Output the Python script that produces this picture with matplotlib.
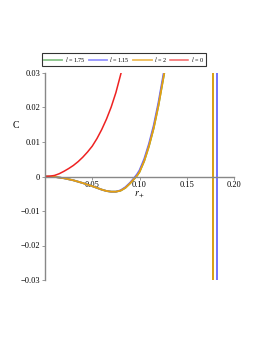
import matplotlib
matplotlib.use('Agg')
import matplotlib.pyplot as plt

plt.rcParams['font.family'] = ['Liberation Serif', 'DejaVu Serif']
plt.rcParams['mathtext.fontset'] = 'stix'

# values
r_neg = [0.0, 0.01, 0.02, 0.03, 0.04, 0.05, 0.055, 0.06, 0.065, 0.07, 0.075,
         0.08, 0.085, 0.09, 0.095, 0.0975, 0.1, 0.105, 0.11, 0.115, 0.12, 0.1262]
c_orange = [0.0, -0.0001, -0.0005, -0.0011, -0.0019, -0.0028, -0.0033, -0.0038,
            -0.0042, -0.0044, -0.0044, -0.0041, -0.0033, -0.0020, -0.0005,
            0.0003, 0.0013, 0.0045, 0.0088, 0.0140, 0.0205, 0.0300]
c_blue = [0.0, -0.0001, -0.0005, -0.0011, -0.0019, -0.0028, -0.0033, -0.0038,
          -0.0042, -0.0044, -0.0044, -0.0040, -0.0031, -0.0018, -0.0002,
          0.0007, 0.0018, 0.0051, 0.0095, 0.0148, 0.0214, 0.0310]
r_red = [0.0, 0.005, 0.01, 0.015, 0.02, 0.025, 0.03, 0.035, 0.04, 0.045, 0.05,
         0.055, 0.06, 0.065, 0.07, 0.075, 0.0805]
c_red = [0.0, 0.0001, 0.0003, 0.0008, 0.0015, 0.0023, 0.0032, 0.0043, 0.0056,
         0.0071, 0.0088, 0.0110, 0.0136, 0.0166, 0.0201, 0.0243, 0.0300]
asym_r = {'green': 0.1775, 'blue': 0.1822, 'orange': 0.1775}

labels = ['$l$ = 1.75', '$l$ = 1.15', '$l$ = 2', '$l$ = 0']
green, blue, orange, red = '#55aa55', '#6666ff', '#e6a010', '#ee2222'

fig = plt.figure(figsize=(2.62, 3.39), dpi=100)
ax = fig.add_axes([45 / 262, 59 / 339, 189 / 262, 207 / 339])

l1, = ax.plot(r_neg, c_orange, color=green, lw=1.3, solid_joinstyle='round')
l2, = ax.plot(r_neg, c_blue, color=blue, lw=1.3, solid_joinstyle='round')
l3, = ax.plot(r_neg, c_orange, color=orange, lw=1.3, solid_joinstyle='round')
l4, = ax.plot(r_red, c_red, color=red, lw=1.1, solid_joinstyle='round')
ax.axvline(asym_r['green'], color=green, lw=1.3)
ax.axvline(asym_r['blue'], color=blue, lw=1.3)
ax.axvline(asym_r['orange'], color=orange, lw=1.3)

ax.set_xlim(0, 0.2)
ax.set_ylim(-0.03, 0.03)
ax.spines['top'].set_visible(False)
ax.spines['right'].set_visible(False)
ax.spines['bottom'].set_position(('data', 0))
for s in ('left', 'bottom'):
    ax.spines[s].set_color('#888888')
    ax.spines[s].set_linewidth(1.0)
ax.set_xticks([0.05, 0.10, 0.15, 0.20])
ax.set_xticklabels(['0.05', '0.10', '0.15', '0.20'])
ax.set_yticks([-0.03, -0.02, -0.01, 0, 0.01, 0.02, 0.03])
ax.set_yticklabels(['\u22120.03', '\u22120.02', '\u22120.01', '0', '0.01', '0.02', '0.03'])
ax.tick_params(labelsize=6, length=2, width=0.6, color='#888888', pad=1.5)

fig.text(16 / 262, 1 - 125 / 339, 'C', fontsize=7, ha='center', va='center')
fig.text(140 / 262, 1 - 195 / 339, '$r_+$', fontsize=7, ha='center', va='center')

leg = fig.legend([l1, l2, l3, l4], labels, loc='center', ncol=4,
                 bbox_to_anchor=(124 / 262, 1 - 59.5 / 339), fontsize=4.4,
                 frameon=True, fancybox=False, edgecolor='black',
                 handlelength=3.0, handletextpad=0.4, columnspacing=0.5,
                 borderpad=0.35, borderaxespad=0)
leg.get_frame().set_linewidth(0.8)
for h in leg.get_lines():
    h.set_alpha(0.7)

fig.savefig('out.png', dpi=100)
